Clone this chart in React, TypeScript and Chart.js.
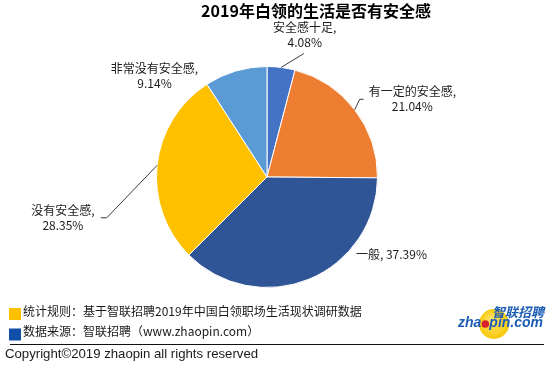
import React, { useEffect, useRef } from "react";
import { Chart, registerables } from "chart.js";

Chart.register(...registerables);

const TITLE = "2019年白领的生活是否有安全感";
const CATEGORIES = ["安全感十足", "有一定的安全感", "一般", "没有安全感", "非常没有安全感"];
const VALUES = [4.08, 21.04, 37.39, 28.35, 9.14];
const COLORS = ["#4472C4", "#ED7D31", "#2F5597", "#FFC000", "#5B9BD5"];
const FOOTER_LINES = [
  "统计规则：基于智联招聘2019年中国白领职场生活现状调研数据",
  "数据来源：智联招聘（www.zhaopin.com）",
];
const FOOTER_COLORS = ["#FFC000", "#0F4FA8"];
const COPYRIGHT = "Copyright©2019 zhaopin all rights reserved";

// label placement, in units of the pie radius, relative to pie centre
const LABEL_LAYOUT = [
  { dx: 0.342, dy: -1.288, single: false },
  { dx: 1.315, dy: -0.707, single: false },
  { dx: 1.126, dy: 0.703, single: true },
  { dx: -1.847, dy: 0.369, single: false },
  { dx: -1.018, dy: -0.919, single: false },
];
// leader lines: elbow / end points in radius units (null = no line)
const LEADERS: ({ ex: number; ey: number; hx: number } | null)[] = [
  { ex: 0.333, ey: -1.117, hx: 0.333 },
  { ex: 0.838, ey: -0.703, hx: 0.874 },
  null,
  { ex: -1.45, ey: 0.369, hx: -1.505 },
  null,
];

const CJK = '"Noto Sans CJK SC", "Microsoft YaHei", sans-serif';

const decorPlugin = {
  id: "decor",
  afterDatasetsDraw(chart: any) {
    const ctx: CanvasRenderingContext2D = chart.ctx;
    const meta = chart.getDatasetMeta(0);
    ctx.save();
    meta.data.forEach((arc: any, i: number) => {
      const p = arc.getProps(["x", "y", "startAngle", "endAngle", "outerRadius"], true);
      const r = p.outerRadius;
      const mid = (p.startAngle + p.endAngle) / 2;
      const lead = LEADERS[i];
      if (lead) {
        ctx.beginPath();
        ctx.strokeStyle = "#3a3a3a";
        ctx.lineWidth = 1;
        ctx.moveTo(p.x + r * Math.cos(mid), p.y + r * Math.sin(mid));
        ctx.lineTo(p.x + lead.ex * r, p.y + lead.ey * r);
        ctx.lineTo(p.x + lead.hx * r, p.y + lead.ey * r);
        ctx.stroke();
      }
      const lay = LABEL_LAYOUT[i];
      const cx = p.x + lay.dx * r;
      const cy = p.y + lay.dy * r;
      ctx.fillStyle = "#1a1a1a";
      ctx.font = `12px ${CJK}`;
      ctx.textAlign = "center";
      ctx.textBaseline = "middle";
      const val = VALUES[i].toFixed(2) + "%";
      if (lay.single) {
        ctx.fillText(`${CATEGORIES[i]}, ${val}`, cx, cy);
      } else {
        ctx.fillText(`${CATEGORIES[i]},`, cx, cy - 7.5);
        ctx.fillText(val, cx, cy + 7.5);
      }
    });

    // title
    ctx.fillStyle = "#000";
    ctx.font = `bold 16px ${CJK}`;
    ctx.textAlign = "center";
    ctx.textBaseline = "middle";
    ctx.fillText(TITLE, 316, 11);

    // footer
    ctx.textAlign = "left";
    FOOTER_LINES.forEach((t, k) => {
      const y = 311 + k * 20.5;
      ctx.fillStyle = FOOTER_COLORS[k];
      ctx.fillRect(9, y - 3, 12, 12);
      ctx.fillStyle = "#1a1a1a";
      ctx.font = `12px ${CJK}`;
      ctx.fillText(t, 23, y);
    });
    ctx.beginPath();
    ctx.strokeStyle = "#111";
    ctx.lineWidth = 1;
    ctx.moveTo(10, 344.5);
    ctx.lineTo(544, 344.5);
    ctx.stroke();
    ctx.fillStyle = "#1a1a1a";
    ctx.font = `13.2px "Liberation Sans", sans-serif`;
    ctx.fillText(COPYRIGHT, 5, 354);

    // logo
    const grad = ctx.createRadialGradient(492, 320, 2, 494, 324, 16);
    grad.addColorStop(0, "#FFE36A");
    grad.addColorStop(1, "#F7C600");
    ctx.fillStyle = grad;
    ctx.beginPath();
    ctx.arc(494, 324, 15, 0, Math.PI * 2);
    ctx.fill();
    ctx.fillStyle = "#1B5DB5";
    ctx.font = `italic bold 13px ${CJK}`;
    ctx.fillText("智联招聘", 492, 312);
    ctx.font = `italic bold 14px "Liberation Sans", sans-serif`;
    ctx.fillText("zha", 458, 323);
    const wz = ctx.measureText("zha").width;
    ctx.fillStyle = "#D8202A";
    ctx.beginPath();
    ctx.arc(458 + wz + 4, 324, 3.8, 0, Math.PI * 2);
    ctx.fill();
    ctx.fillStyle = "#1B5DB5";
    ctx.fillText("pin.com", 458 + wz + 8, 323);
    ctx.restore();
  },
};

export default function App() {
  const ref = useRef<HTMLCanvasElement>(null);
  useEffect(() => {
    if (!ref.current) return;
    const chart = new Chart(ref.current, {
      type: "pie",
      data: {
        labels: CATEGORIES,
        datasets: [
          {
            data: VALUES,
            backgroundColor: COLORS,
            borderColor: "#ffffff",
            borderWidth: 1,
          },
        ],
      },
      options: {
        responsive: false,
        animation: false,
        events: [],
        layout: { padding: { left: 156, right: 176, top: 66, bottom: 83 } },
        plugins: {
          legend: { display: false },
          title: { display: false },
          tooltip: { enabled: false },
        },
      },
      plugins: [decorPlugin],
    });
    return () => chart.destroy();
  }, []);
  return (
    <div style={{ position: "fixed", left: 0, top: 0, width: 554, height: 371, background: "#fff" }}>
      <canvas ref={ref} width={554} height={371} style={{ width: 554, height: 371 }} />
    </div>
  );
}
